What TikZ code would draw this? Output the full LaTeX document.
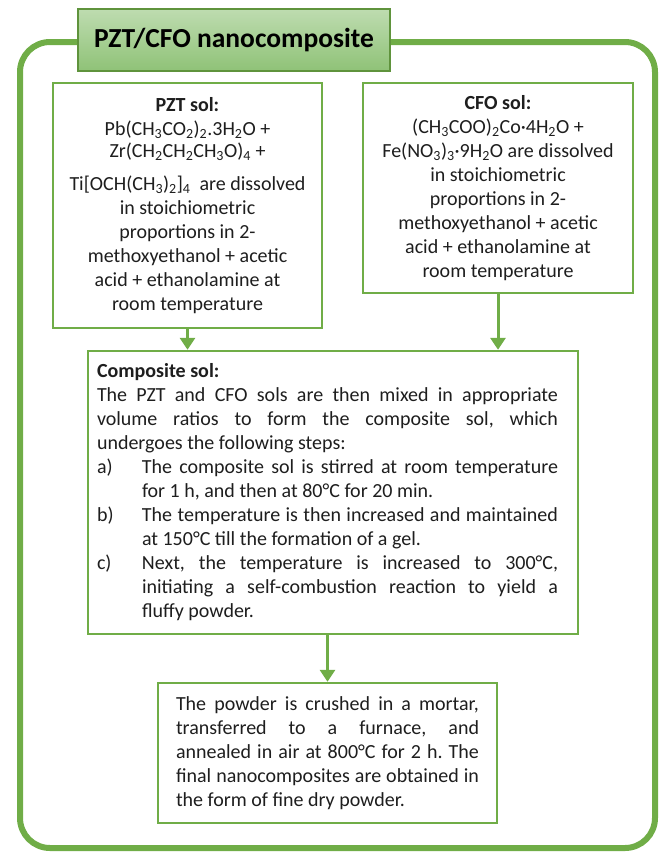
\documentclass[tikz,border=0pt]{standalone}
\usepackage{fontspec}
\setmainfont{Carlito}
\usetikzlibrary{arrows.meta}
\definecolor{grn}{HTML}{70AD47}
\definecolor{ttop}{HTML}{BEDCB0}
\definecolor{tbot}{HTML}{8FC277}
\definecolor{txt}{HTML}{1E1E1E}
\newcommand{\chs}[1]{\textsubscript{#1}}
\newcommand{\jline}[2]{\makebox[#1][s]{#2}}
\newcommand{\nsp}{\spaceskip=0pt\xspaceskip=0pt\relax}
\newcommand{\csp}{\spaceskip=\fontdimen2\font\xspaceskip=\fontdimen2\font\relax}
\frenchspacing
\begin{document}
\begin{tikzpicture}[x=1pt,y=-1pt,
  frame/.style={draw=grn,line width=6pt,rounded corners=30pt},
  sbox/.style={draw=grn,line width=2.5pt,fill=white,text=txt,inner ysep=0pt,
    font=\fontsize{20}{24}\selectfont},
  titlebox/.style={draw=grn!85!black,line width=1.2pt,top color=ttop,bottom color=tbot,
    minimum width=312pt,minimum height=62pt,text=black,
    font=\fontsize{27.5}{32}\selectfont\bfseries},
  arr/.style={draw=grn,line width=3pt,-{Triangle[width=15pt,length=12pt]}}]
\useasboundingbox (0,0) rectangle (664,852);
\draw[frame] (20,42) rectangle (655,848);
\node[titlebox] (title) at (234,40) {PZT/CFO nanocomposite};

\node[sbox,text width=255pt,inner xsep=7pt,minimum height=245pt,align=center] (pzt) at (187.5,205.5)
 {\csp\textbf{\csp PZT sol:}\\
  Pb(CH\chs{3}CO\chs{2})\chs{2}.3H\chs{2}O +\\[-2pt]
  Zr(CH\chs{2}CH\chs{2}CH\chs{3}O)\chs{4} +\\[9pt]
  Ti[OCH(CH\chs{3})\chs{2}]\chs{4}\ \ are dissolved\\
  in stoichiometric\\
  proportions in 2-\\
  methoxyethanol + acetic\\
  acid + ethanolamine at\\
  room temperature};

\node[sbox,text width=256pt,inner xsep=7pt,minimum height=210pt,align=center] (cfo) at (498,188)
 {\csp\textbf{\csp CFO sol:}\\
  (CH\chs{3}COO)\chs{2}Co·4H\chs{2}O +\\
  Fe(NO\chs{3})\chs{3}·9H\chs{2}O are dissolved\\
  in stoichiometric\\
  proportions in 2-\\
  methoxyethanol + acetic\\
  acid + ethanolamine at\\
  room temperature};

\node[sbox,text width=472pt,inner xsep=9pt,minimum height=283pt,align=left] (comp) at (333,492.5)
 {\begin{minipage}{461pt}\fontsize{20}{24}\selectfont\nsp
  \noindent\textbf{Composite sol:}\par
  \noindent\jline{461pt}{The PZT and CFO sols are then mixed in appropriate}\par
  \noindent\jline{461pt}{volume ratios to form the composite sol, which}\par
  \noindent undergoes the following steps:\par
  \noindent\makebox[45pt][l]{a)}\jline{416pt}{The composite sol is stirred at room temperature}\par
  \noindent\hspace*{45pt}for 1 h, and then at 80°C for 20 min.\par
  \noindent\makebox[45pt][l]{b)}\jline{416pt}{The temperature is then increased and maintained}\par
  \noindent\hspace*{45pt}at 150°C till the formation of a gel.\par
  \noindent\makebox[45pt][l]{c)}\jline{416pt}{Next, the temperature is increased to 300°C,}\par
  \noindent\hspace*{45pt}\jline{416pt}{initiating a self-combustion reaction to yield a}\par
  \noindent\hspace*{45pt}fluffy powder.\par
  \end{minipage}};

\node[sbox,text width=303pt,inner xsep=18pt,minimum height=140pt,align=justify] (fin) at (327.5,753)
 {\nsp The powder is crushed in a mortar,\linebreak
  transferred to a furnace, and\linebreak
  annealed in air at 800°C for 2 h. The\linebreak
  final nanocomposites are obtained in\linebreak
  the form of fine dry powder.};

\draw[arr] (pzt.south) -- (pzt.south |- comp.north);
\draw[arr] (cfo.south) -- (cfo.south |- comp.north);
\draw[arr] (fin.north |- comp.south) -- (fin.north);
\end{tikzpicture}
\end{document}
